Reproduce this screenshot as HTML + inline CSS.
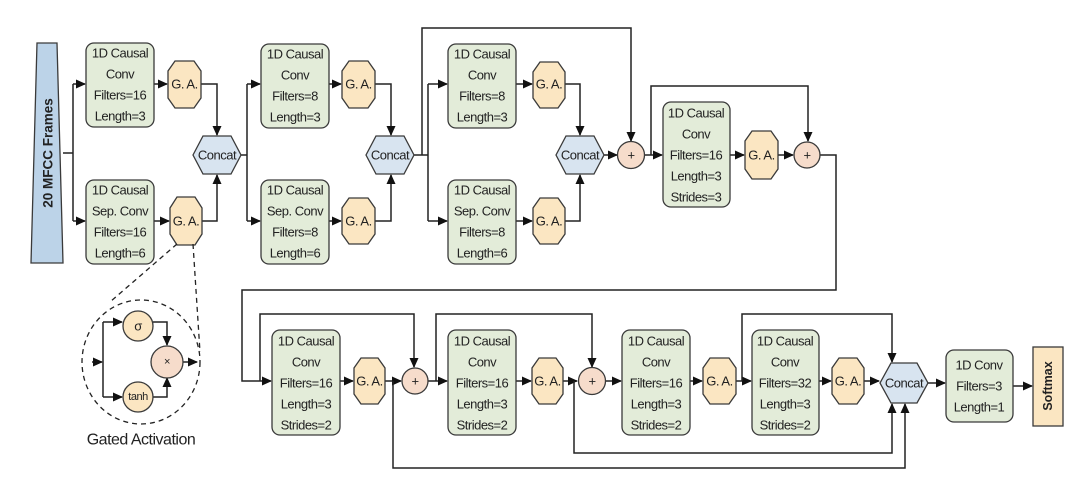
<!DOCTYPE html>
<html><head><meta charset="utf-8"><style>
html,body{margin:0;padding:0;background:#fff;}
svg{display:block;}
text{font-family:"Liberation Sans",sans-serif;font-size:13px;letter-spacing:-0.5px;fill:#222;text-anchor:middle;dominant-baseline:central;}
.b{fill:#e3ecd9;stroke:#3a3a3a;stroke-width:1.3;}
.g{fill:#fbe6c2;stroke:#3a3a3a;stroke-width:1.3;}
.c{fill:#d8e4f0;stroke:#3a3a3a;stroke-width:1.3;}
.p{fill:#f6dccb;stroke:#3a3a3a;stroke-width:1.3;}
.l{fill:none;stroke:#222;stroke-width:1.5;}
.d{fill:none;stroke:#222;stroke-width:1.3;stroke-dasharray:5,4;}
</style></head><body>
<svg width="1079" height="494" viewBox="0 0 1079 494" xmlns="http://www.w3.org/2000/svg">
<defs><marker id="a" markerWidth="10" markerHeight="10" refX="9" refY="5" orient="auto" markerUnits="userSpaceOnUse"><path d="M0,0.5 L10,5 L0,9.5 z" fill="#111"/></marker></defs>

<polygon points="37,43 57,43 63,263 31,263" fill="#bcd3e8" stroke="#3a3a3a" stroke-width="1.3"/>
<text transform="translate(48,153) rotate(-90)" style="font-weight:bold;font-size:13.5px;letter-spacing:0">20 MFCC Frames</text>

<path class="l" d="M63,153 H73 M73,84 V221"/>
<path class="l" d="M73,84 H85" marker-end="url(#a)"/>
<path class="l" d="M73,221 H85" marker-end="url(#a)"/>
<path class="l" d="M154,84 H167" marker-end="url(#a)"/>
<path class="l" d="M154,221 H169" marker-end="url(#a)"/>
<path class="l" d="M201,84 H217 V135" marker-end="url(#a)"/>
<path class="l" d="M202,221 H217 V175" marker-end="url(#a)"/>
<path class="l" d="M241,155 H247 M247,84 V221"/>
<path class="l" d="M247,84 H260" marker-end="url(#a)"/>
<path class="l" d="M247,221 H260" marker-end="url(#a)"/>
<path class="l" d="M329,84 H341" marker-end="url(#a)"/>
<path class="l" d="M329,221 H341" marker-end="url(#a)"/>
<path class="l" d="M375,84 H391 V135" marker-end="url(#a)"/>
<path class="l" d="M375,221 H391 V175" marker-end="url(#a)"/>
<path class="l" d="M414,155 H428 M428,84 V221"/>
<path class="l" d="M428,84 H447" marker-end="url(#a)"/>
<path class="l" d="M428,221 H447" marker-end="url(#a)"/>
<path class="l" d="M422,155 V28 H631 V141" marker-end="url(#a)"/>
<path class="l" d="M516,84 H532" marker-end="url(#a)"/>
<path class="l" d="M516,221 H532" marker-end="url(#a)"/>
<path class="l" d="M565,84 H580 V135" marker-end="url(#a)"/>
<path class="l" d="M565,221 H580 V175" marker-end="url(#a)"/>
<path class="l" d="M604,155 H617" marker-end="url(#a)"/>
<path class="l" d="M644,155 H662" marker-end="url(#a)"/>
<path class="l" d="M651,155 V86 H808 V141" marker-end="url(#a)"/>
<path class="l" d="M730,155 H744" marker-end="url(#a)"/>
<path class="l" d="M778,155 H793" marker-end="url(#a)"/>
<path class="l" d="M820,155 H836 V290 H242 V381 H271" marker-end="url(#a)"/>

<path class="l" d="M260,381 V314 H414 V367" marker-end="url(#a)"/>
<path class="l" d="M340,381 H353" marker-end="url(#a)"/>
<path class="l" d="M385,381 H401" marker-end="url(#a)"/>
<path class="l" d="M393,381 V468 H905 V404" marker-end="url(#a)"/>
<path class="l" d="M428,381 H447" marker-end="url(#a)"/>
<path class="l" d="M436,381 V314 H592 V367" marker-end="url(#a)"/>
<path class="l" d="M516,381 H531" marker-end="url(#a)"/>
<path class="l" d="M563,381 H577" marker-end="url(#a)"/>
<path class="l" d="M574,381 V453 H892 V404" marker-end="url(#a)"/>
<path class="l" d="M605,381 H621" marker-end="url(#a)"/>
<path class="l" d="M690,381 H702" marker-end="url(#a)"/>
<path class="l" d="M736,381 H751" marker-end="url(#a)"/>
<path class="l" d="M742,381 V314 H892 V362" marker-end="url(#a)"/>
<path class="l" d="M819,381 H831" marker-end="url(#a)"/>
<path class="l" d="M864,381 H879" marker-end="url(#a)"/>
<path class="l" d="M928,383 H945" marker-end="url(#a)"/>
<path class="l" d="M1013,386 H1032" marker-end="url(#a)"/>

<g>
<rect class="b" x="86" y="43" width="68" height="84" rx="8"/>
<text x="120" y="53">1D Causal</text><text x="120" y="74">Conv</text><text x="120" y="95">Filters=16</text><text x="120" y="116">Length=3</text>
<rect class="b" x="86" y="180" width="68" height="84" rx="8"/>
<text x="120" y="190">1D Causal</text><text x="120" y="211">Sep. Conv</text><text x="120" y="232">Filters=16</text><text x="120" y="253">Length=6</text>
<rect class="b" x="261" y="44" width="68" height="84" rx="8"/>
<text x="295" y="54">1D Causal</text><text x="295" y="75">Conv</text><text x="295" y="96">Filters=8</text><text x="295" y="117">Length=3</text>
<rect class="b" x="261" y="180" width="68" height="84" rx="8"/>
<text x="295" y="190">1D Causal</text><text x="295" y="211">Sep. Conv</text><text x="295" y="232">Filters=8</text><text x="295" y="253">Length=6</text>
<rect class="b" x="448" y="44" width="68" height="84" rx="8"/>
<text x="482" y="54">1D Causal</text><text x="482" y="75">Conv</text><text x="482" y="96">Filters=8</text><text x="482" y="117">Length=3</text>
<rect class="b" x="448" y="180" width="68" height="84" rx="8"/>
<text x="482" y="190">1D Causal</text><text x="482" y="211">Sep. Conv</text><text x="482" y="232">Filters=8</text><text x="482" y="253">Length=6</text>
<rect class="b" x="663" y="102" width="67" height="105" rx="8"/>
<text x="696" y="113">1D Causal</text><text x="696" y="134">Conv</text><text x="696" y="155">Filters=16</text><text x="696" y="176">Length=3</text><text x="696" y="197">Strides=3</text>
<rect class="b" x="272" y="330" width="68" height="105" rx="8"/>
<text x="306" y="341">1D Causal</text><text x="306" y="362">Conv</text><text x="306" y="383">Filters=16</text><text x="306" y="404">Length=3</text><text x="306" y="425">Strides=2</text>
<rect class="b" x="448" y="330" width="68" height="105" rx="8"/>
<text x="482" y="341">1D Causal</text><text x="482" y="362">Conv</text><text x="482" y="383">Filters=16</text><text x="482" y="404">Length=3</text><text x="482" y="425">Strides=2</text>
<rect class="b" x="622" y="330" width="68" height="105" rx="8"/>
<text x="656" y="341">1D Causal</text><text x="656" y="362">Conv</text><text x="656" y="383">Filters=16</text><text x="656" y="404">Length=3</text><text x="656" y="425">Strides=2</text>
<rect class="b" x="752" y="330" width="67" height="105" rx="8"/>
<text x="785" y="341">1D Causal</text><text x="785" y="362">Conv</text><text x="785" y="383">Filters=32</text><text x="785" y="404">Length=3</text><text x="785" y="425">Strides=2</text>
<rect class="b" x="946" y="350" width="67" height="72" rx="8"/>
<text x="979" y="365">1D Conv</text><text x="979" y="386">Filters=3</text><text x="979" y="407">Length=1</text>
<rect x="1033" y="347" width="30" height="79" fill="#fbe6c2" stroke="#3a3a3a" stroke-width="1.3"/>
<text transform="translate(1048,386) rotate(-90)" style="font-weight:bold;font-size:12.5px;letter-spacing:0">Softmax</text>
</g>

<g>
<polygon class="g" points="175,61 194,61 201,71 201,98 194,108 175,108 168,98 168,71"/><text x="184.5" y="84">G. A.</text>
<polygon class="g" points="177,197 195,197 202,208 202,234 195,245 177,245 170,234 170,208"/><text x="186" y="221">G. A.</text>
<polygon class="g" points="349,61 368,61 375,71 375,98 368,108 349,108 342,98 342,71"/><text x="358.5" y="84">G. A.</text>
<polygon class="g" points="349,198 368,198 375,208 375,234 368,244 349,244 342,234 342,208"/><text x="358.5" y="221">G. A.</text>
<polygon class="g" points="540,62 558,62 565,72 565,98 558,108 540,108 533,98 533,72"/><text x="549" y="84">G. A.</text>
<polygon class="g" points="540,198 558,198 565,208 565,234 558,244 540,244 533,234 533,208"/><text x="549" y="221">G. A.</text>
<polygon class="g" points="752,131 771,131 778,141 778,169 771,179 752,179 745,169 745,141"/><text x="761.5" y="155">G. A.</text>
<polygon class="g" points="361,358 378,358 385,368 385,394 378,404 361,404 354,394 354,368"/><text x="369.5" y="381">G. A.</text>
<polygon class="g" points="539,358 556,358 563,368 563,394 556,404 539,404 532,394 532,368"/><text x="547.5" y="381">G. A.</text>
<polygon class="g" points="710,358 729,358 736,368 736,394 729,404 710,404 703,394 703,368"/><text x="719.5" y="381">G. A.</text>
<polygon class="g" points="839,358 857,358 864,368 864,394 857,404 839,404 832,394 832,368"/><text x="848" y="381">G. A.</text>
</g>

<polygon class="c" points="193,155 203,136 231,136 241,155 231,174 203,174"/><text x="217" y="155">Concat</text>
<polygon class="c" points="366,155 376,136 404,136 414,155 404,174 376,174"/><text x="390" y="155">Concat</text>
<polygon class="c" points="556,155 566,136 594,136 604,155 594,174 566,174"/><text x="580" y="155">Concat</text>
<polygon class="c" points="880,383 891,363 917,363 928,383 917,403 891,403"/><text x="904" y="383">Concat</text>

<circle class="p" cx="631" cy="155" r="13.5"/><text x="631" y="155">+</text>
<circle class="p" cx="807" cy="155" r="13"/><text x="807" y="155">+</text>
<circle class="p" cx="415" cy="381" r="13"/><text x="415" y="381">+</text>
<circle class="p" cx="592" cy="381" r="13.5"/><text x="592" y="381">+</text>

<path class="d" d="M177,244 L110,302 M193,244 L200,352"/>
<ellipse class="d" cx="141" cy="362" rx="59" ry="62"/>
<path class="l" d="M92,362 H102" marker-end="url(#a)"/>
<path class="l" d="M103,322 V397"/>
<path class="l" d="M103,322 H122" marker-end="url(#a)"/>
<path class="l" d="M103,397 H122" marker-end="url(#a)"/>
<path class="l" d="M153,322 H167 V345" marker-end="url(#a)"/>
<path class="l" d="M153,397 H167 V378" marker-end="url(#a)"/>
<path class="l" d="M183,362 H197" marker-end="url(#a)"/>
<circle cx="138" cy="326" r="15" fill="#fbe6c2" stroke="#3a3a3a" stroke-width="1.3"/><text x="138" y="326">σ</text>
<circle cx="138" cy="397" r="15" fill="#fbe6c2" stroke="#3a3a3a" stroke-width="1.3"/><text x="138" y="397" style="font-size:11px">tanh</text>
<circle class="p" cx="167" cy="362" r="16"/><text x="167" y="362" style="font-size:11px">×</text>
<text x="141" y="440" style="font-size:16px">Gated Activation</text>
</svg>
</body></html>
